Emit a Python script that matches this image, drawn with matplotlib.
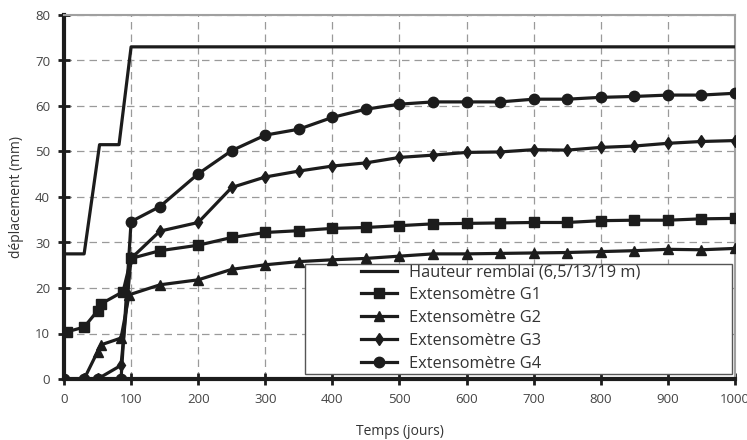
import numpy as np
import matplotlib
matplotlib.use('Agg')
import matplotlib.pyplot as plt
from matplotlib.patches import Rectangle

# Hauteur remblai (fill height)
Jours_H = [0, 0, 30, 53, 82, 100, 1000]
Hauteur = [0, 27.5, 27.5, 51.5, 51.5, 73, 73]

Jours_tail = [250, 300, 350, 400, 450, 500, 550, 600, 650, 700, 750, 800, 850, 900, 950, 1000]

Jours_G1 = [5, 30, 50, 55, 88, 100, 143, 200] + Jours_tail
G1 = [10.4, 11.4, 15.0, 16.5, 19.2, 26.5, 28.2, 29.4,
      31.1, 32.2, 32.6, 33.1, 33.3, 33.7, 34.1, 34.2, 34.3, 34.4, 34.4, 34.8, 34.9, 34.9, 35.2, 35.3]

Jours_G2 = [0, 30, 50, 55, 85, 97, 143, 200] + Jours_tail
G2 = [0, 0, 6.0, 7.5, 9.0, 18.5, 20.7, 21.8,
      24.1, 25.1, 25.8, 26.2, 26.5, 27.0, 27.5, 27.5, 27.6, 27.7, 27.8, 28.0, 28.2, 28.5, 28.4, 28.7]

Jours_G3 = [0, 30, 50, 85, 100, 143, 200] + Jours_tail
G3 = [0, 0, 0, 3.0, 26.5, 32.5, 34.4,
      42.1, 44.4, 45.7, 46.8, 47.5, 48.7, 49.2, 49.8, 49.9, 50.4, 50.3, 50.9, 51.2, 51.8, 52.2, 52.4]

Jours_G4 = [0, 30, 50, 85, 100, 143, 200] + Jours_tail
G4 = [0, 0, 0, 0, 34.6, 37.9, 45.1,
      50.2, 53.6, 54.9, 57.5, 59.3, 60.4, 60.9, 60.9, 60.9, 61.5, 61.5, 61.9, 62.1, 62.4, 62.4, 62.8]

plt.rcParams['font.family'] = ['Open Sans', 'DejaVu Sans']

fig = plt.figure(figsize=(7.47, 4.40), dpi=100)
ax = fig.add_axes([64/747, 1-379/440, (735-64)/747, (379-15)/440])

lc = '#1c1c1c'
lw = 2.3
ax.plot(Jours_H, Hauteur, color=lc, lw=lw, label='Hauteur remblai (6,5/13/19 m)', zorder=3)
ax.plot(Jours_G1, G1, color=lc, lw=lw, marker='s', ms=7, label='Extensomètre G1', zorder=3)
ax.plot(Jours_G2, G2, color=lc, lw=lw, marker='^', ms=7, label='Extensomètre G2', zorder=3)
ax.plot(Jours_G3, G3, color=lc, lw=lw, marker='d', ms=6, label='Extensomètre G3', zorder=3)
ax.plot(Jours_G4, G4, color=lc, lw=lw, marker='o', ms=7.5, label='Extensomètre G4', zorder=3)

ax.set_xlim(0, 1000)
ax.set_ylim(0, 80)
ax.set_xticks(np.arange(0, 1001, 100))
ax.set_yticks(np.arange(0, 81, 10))
ax.grid(True, color='#9a9a9a', linestyle=(0, (6, 4)), lw=0.9)
ax.set_axisbelow(True)

for s in ['left', 'bottom']:
    ax.spines[s].set_linewidth(3)
    ax.spines[s].set_color(lc)
for s in ['top', 'right']:
    ax.spines[s].set_linewidth(1.5)
    ax.spines[s].set_color('#a0a0a0')

ax.tick_params(direction='inout', length=8, width=2, color=lc,
               labelsize=9.5, labelcolor='#444444', pad=6)

ax.set_xlabel('Temps (jours)', fontsize=10, color='#333333', labelpad=13)
ax.set_ylabel('déplacement (mm)', fontsize=10, color='#333333', labelpad=8)

# white legend box
box = Rectangle(((305-64)/671, (379-374)/364), (732-305)/671, (374-264)/364,
                transform=ax.transAxes, facecolor='white', edgecolor='#555555', lw=1.0, zorder=2.5)
ax.add_patch(box)

leg = ax.legend(loc='upper left', bbox_to_anchor=((358-64)/671, (379-261)/364),
                borderaxespad=0, fontsize=11.8, frameon=False,
                handlelength=2.2, labelspacing=0.42, borderpad=0.2, handletextpad=0.7)
leg.set_zorder(5)
for t in leg.get_texts():
    t.set_color('#333333')

fig.savefig('out.png', dpi=100)
